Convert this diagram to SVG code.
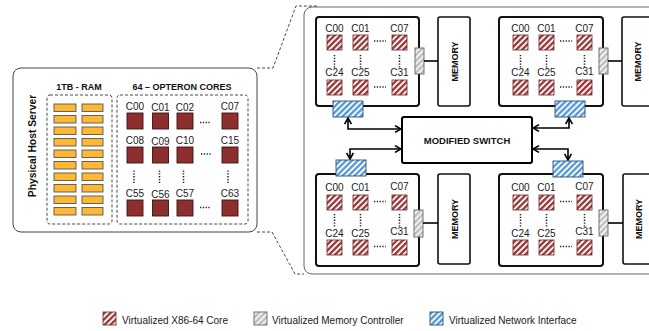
<svg xmlns="http://www.w3.org/2000/svg" width="649" height="331" viewBox="0 0 649 331">
<defs>
<style>
text{font-family:"Liberation Sans",Arial,sans-serif;fill:#1a1a1a}
.cl{font-size:10px;text-anchor:middle}
.b{font-weight:bold;fill:#111}
.clu{fill:#fff;stroke:#111;stroke-width:2}
.mem{fill:#fff;stroke:#111;stroke-width:1.6}
.vc{fill:url(#pRed);stroke:#6a2424;stroke-width:0.8}
.mc{fill:url(#pGray);stroke:#666;stroke-width:0.9}
.ni{fill:url(#pBlue);stroke:#2c4f78;stroke-width:0.9}
.dots{stroke:#222;stroke-width:1.5;stroke-dasharray:1.3 1.5;fill:none}
.dash{fill:none;stroke:#333;stroke-width:0.9;stroke-dasharray:3 2}
.ram{fill:#ffb833;stroke:#555;stroke-width:0.9}
.core{fill:#8e2f2f;stroke:#3a1414;stroke-width:0.9}
.con{fill:none;stroke:#000;stroke-width:1.6}
.wire{stroke:#000;stroke-width:1.6}
</style>
<pattern id="pRed" patternUnits="userSpaceOnUse" width="4.2" height="4.2" patternTransform="rotate(45)"><rect width="4.2" height="4.2" fill="#fff"/><rect width="2.4" height="4.2" fill="#a03a3a"/></pattern>
<pattern id="pGray" patternUnits="userSpaceOnUse" width="4.2" height="4.2" patternTransform="rotate(45)"><rect width="4.2" height="4.2" fill="#f2f2f2"/><rect width="2.2" height="4.2" fill="#bdbdbd"/></pattern>
<pattern id="pBlue" patternUnits="userSpaceOnUse" width="4.2" height="4.2" patternTransform="rotate(45)"><rect width="4.2" height="4.2" fill="#fff"/><rect width="2.4" height="4.2" fill="#5b9bd5"/></pattern>
<marker id="ah" viewBox="0 0 8 8" refX="7" refY="4" markerWidth="8" markerHeight="8" markerUnits="userSpaceOnUse" orient="auto-start-reverse"><path d="M1,0.6 L7,4 L1,7.4" fill="none" stroke="#000" stroke-width="1.6"/></marker>
</defs>

<g id="zoom-frame">
<rect x="304" y="7" width="380" height="267" rx="8" fill="#fff" stroke="#666" stroke-width="1"/>
<path class="dash" d="M257,68 H273 L296,6 H318"/>
<path class="dash" d="M257,232 H272 L295,274 H304"/>
</g>

<g id="host-server">
<rect x="13" y="68" width="244" height="164" rx="8" fill="#fff" stroke="#444" stroke-width="1"/>
<text class="b" transform="translate(32,146) rotate(-90)" x="0" y="3.6" text-anchor="middle" style="font-size:10.3px">Physical Host Server</text>
<text class="b" x="79" y="90" text-anchor="middle" style="font-size:9px">1TB - RAM</text>
<text class="b" x="182" y="90" text-anchor="middle" style="font-size:9px">64 – OPTERON CORES</text>
<rect class="dash" x="47" y="95" width="65" height="129" rx="3"/>
<rect class="dash" x="117" y="95" width="131" height="129" rx="3"/>
<g id="ram">
<rect class="ram" x="54" y="104" width="22" height="7.5"/><rect class="ram" x="82" y="104" width="21" height="7.5"/>
<rect class="ram" x="54" y="115.5" width="22" height="7.5"/><rect class="ram" x="82" y="115.5" width="21" height="7.5"/>
<rect class="ram" x="54" y="127" width="22" height="7.5"/><rect class="ram" x="82" y="127" width="21" height="7.5"/>
<rect class="ram" x="54" y="138.5" width="22" height="7.5"/><rect class="ram" x="82" y="138.5" width="21" height="7.5"/>
<rect class="ram" x="54" y="150" width="22" height="7.5"/><rect class="ram" x="82" y="150" width="21" height="7.5"/>
<rect class="ram" x="54" y="161.5" width="22" height="7.5"/><rect class="ram" x="82" y="161.5" width="21" height="7.5"/>
<rect class="ram" x="54" y="173" width="22" height="7.5"/><rect class="ram" x="82" y="173" width="21" height="7.5"/>
<rect class="ram" x="54" y="184.5" width="22" height="7.5"/><rect class="ram" x="82" y="184.5" width="21" height="7.5"/>
<rect class="ram" x="54" y="196" width="22" height="7.5"/><rect class="ram" x="82" y="196" width="21" height="7.5"/>
<rect class="ram" x="54" y="207.5" width="22" height="7.5"/><rect class="ram" x="82" y="207.5" width="21" height="7.5"/>
</g>
<g id="cores">
<text class="cl" x="135" y="110">C00</text><text class="cl" x="160.5" y="111">C01</text><text class="cl" x="185" y="111">C02</text><text class="cl" x="230" y="110">C07</text>
<rect class="core" x="127" y="113" width="16" height="16"/><rect class="core" x="152.5" y="113" width="16" height="16"/><rect class="core" x="177" y="113" width="16" height="16"/><rect class="core" x="222" y="113" width="16" height="16"/>
<text class="cl" x="135" y="143.5">C08</text><text class="cl" x="160.5" y="144.5">C09</text><text class="cl" x="185" y="144">C10</text><text class="cl" x="230" y="143.5">C15</text>
<rect class="core" x="127" y="147" width="16" height="16"/><rect class="core" x="152.5" y="147" width="16" height="16"/><rect class="core" x="177" y="147" width="16" height="16"/><rect class="core" x="222" y="147" width="16" height="16"/>
<text class="cl" x="135" y="196.5">C55</text><text class="cl" x="160.5" y="197.5">C56</text><text class="cl" x="185" y="197">C57</text><text class="cl" x="230" y="196.5">C63</text>
<rect class="core" x="127" y="200" width="16" height="16"/><rect class="core" x="152.5" y="200" width="16" height="16"/><rect class="core" x="177" y="200" width="16" height="16"/><rect class="core" x="222" y="200" width="16" height="16"/>
<path class="dots" d="M200,122.5 H211 M201,154 H211 M200,207.5 H211 M134,170.5 V184 M159.5,170.5 V184 M183.5,170.5 V184 M228,170.5 V184"/>
</g>
</g>

<g id="switch">
<rect x="402" y="117" width="130" height="46" rx="2" fill="#fff" stroke="#000" stroke-width="2"/>
<text class="b" x="467" y="143.5" text-anchor="middle" style="font-size:9.5px">MODIFIED SWITCH</text>
</g>

<g id="memory-tl"><rect class="mem" x="438" y="17" width="32" height="89" rx="2"/><text class="b" transform="translate(455,61.5) rotate(-90)" x="0" y="3.2" text-anchor="middle" style="font-size:9px">MEMORY</text></g>
<g id="memory-tr"><rect class="mem" x="622" y="17" width="32" height="89" rx="2"/><text class="b" transform="translate(638,61.5) rotate(-90)" x="0" y="3.2" text-anchor="middle" style="font-size:9px">MEMORY</text></g>
<g id="memory-bl"><rect class="mem" x="438" y="174" width="32" height="90" rx="2"/><text class="b" transform="translate(455,219) rotate(-90)" x="0" y="3.2" text-anchor="middle" style="font-size:9px">MEMORY</text></g>
<g id="memory-br"><rect class="mem" x="623" y="174" width="32" height="90" rx="2"/><text class="b" transform="translate(639,219) rotate(-90)" x="0" y="3.2" text-anchor="middle" style="font-size:9px">MEMORY</text></g>

<g id="cluster-tl">
<rect class="clu" x="316" y="17" width="103" height="89" rx="3"/>
<text class="cl" x="334.5" y="32">C00</text><text class="cl" x="360.5" y="32">C01</text><text class="cl" x="399.5" y="32">C07</text>
<rect class="vc" x="327" y="35" width="15" height="15"/><rect class="vc" x="353" y="35" width="15" height="15"/><rect class="vc" x="392" y="35" width="15" height="15"/>
<text class="cl" x="334.5" y="76">C24</text><text class="cl" x="360.5" y="76">C25</text><text class="cl" x="399.5" y="76">C31</text>
<rect class="vc" x="327" y="80" width="15" height="15"/><rect class="vc" x="353" y="80" width="15" height="15"/><rect class="vc" x="392" y="80" width="15" height="15"/>
<path class="dots" d="M374,41 H386 M374,87 H386 M334.5,55 V68 M360.5,55 V68 M399.5,55 V68"/>
<rect class="mc" x="415" y="48" width="9" height="26"/>
<rect class="ni" x="333" y="101" width="30" height="16"/>
</g>

<g id="cluster-tr">
<rect class="clu" x="499" y="17" width="104" height="89" rx="3"/>
<text class="cl" x="520.5" y="32">C00</text><text class="cl" x="546.5" y="32">C01</text><text class="cl" x="584.5" y="32">C07</text>
<rect class="vc" x="513" y="35" width="15" height="15"/><rect class="vc" x="539" y="35" width="15" height="15"/><rect class="vc" x="577" y="35" width="15" height="15"/>
<text class="cl" x="520.5" y="76">C24</text><text class="cl" x="546.5" y="76">C25</text><text class="cl" x="584.5" y="75">C31</text>
<rect class="vc" x="513" y="80" width="15" height="15"/><rect class="vc" x="539" y="80" width="15" height="15"/><rect class="vc" x="577" y="80" width="15" height="15"/>
<path class="dots" d="M560,41 H572 M560,87 H572 M520.5,55 V68 M546.5,55 V68 M584.5,55 V68"/>
<rect class="mc" x="599" y="48" width="9" height="26"/>
<rect class="ni" x="555" y="101" width="30" height="16"/>
</g>

<g id="cluster-bl">
<rect class="clu" x="316" y="174" width="103" height="92" rx="3"/>
<text class="cl" x="334.5" y="191">C00</text><text class="cl" x="360.5" y="191">C01</text><text class="cl" x="399.5" y="190">C07</text>
<rect class="vc" x="327" y="195" width="15" height="15"/><rect class="vc" x="353" y="195" width="15" height="15"/><rect class="vc" x="392" y="195" width="15" height="15"/>
<text class="cl" x="334.5" y="237">C24</text><text class="cl" x="360.5" y="237">C25</text><text class="cl" x="399.5" y="235">C31</text>
<rect class="vc" x="327" y="240" width="15" height="15"/><rect class="vc" x="353" y="240" width="15" height="15"/><rect class="vc" x="392" y="240" width="15" height="15"/>
<path class="dots" d="M374,201.5 H386 M374,246.5 H386 M334.5,214 V227 M360.5,214 V227 M399.5,214 V227"/>
<rect class="mc" x="414" y="210" width="9" height="27"/>
<rect class="ni" x="336" y="160" width="30" height="16"/>
</g>

<g id="cluster-br">
<rect class="clu" x="499" y="174" width="104" height="92" rx="3"/>
<text class="cl" x="520.5" y="191">C00</text><text class="cl" x="546.5" y="191">C01</text><text class="cl" x="584.5" y="190">C07</text>
<rect class="vc" x="513" y="195" width="15" height="15"/><rect class="vc" x="539" y="195" width="15" height="15"/><rect class="vc" x="577" y="195" width="15" height="15"/>
<text class="cl" x="520.5" y="237">C24</text><text class="cl" x="546.5" y="237">C25</text><text class="cl" x="584.5" y="235">C31</text>
<rect class="vc" x="513" y="240" width="15" height="15"/><rect class="vc" x="539" y="240" width="15" height="15"/><rect class="vc" x="577" y="240" width="15" height="15"/>
<path class="dots" d="M560,201.5 H572 M560,246.5 H572 M520.5,214 V227 M546.5,214 V227 M584.5,214 V227"/>
<rect class="mc" x="599" y="210" width="9" height="26"/>
<rect class="ni" x="553" y="161" width="30" height="16"/>
</g>

<g id="connectors">
<path class="con" d="M348,118 V129 H401" marker-start="url(#ah)" marker-end="url(#ah)"/>
<path class="con" d="M350,159 V149 H401" marker-start="url(#ah)" marker-end="url(#ah)"/>
<path class="con" d="M533,128 H569 V118" marker-start="url(#ah)" marker-end="url(#ah)"/>
<path class="con" d="M533,149 H568 V160" marker-start="url(#ah)" marker-end="url(#ah)"/>
<line class="wire" x1="424" y1="61" x2="438" y2="61"/>
<line class="wire" x1="608" y1="61" x2="622" y2="61"/>
<line class="wire" x1="423" y1="223" x2="438" y2="223"/>
<line class="wire" x1="608" y1="223" x2="623" y2="223"/>
</g>

<g id="legend">
<rect class="vc" x="103" y="312" width="13" height="13"/>
<text x="122" y="324" style="font-size:10px">Virtualized X86-64 Core</text>
<rect class="mc" x="254" y="312" width="13" height="13"/>
<text x="272" y="324" style="font-size:10px">Virtualized Memory Controller</text>
<rect class="ni" x="430" y="312" width="13" height="13"/>
<text x="449" y="324" style="font-size:10px">Virtualized Network Interface</text>
</g>
</svg>
